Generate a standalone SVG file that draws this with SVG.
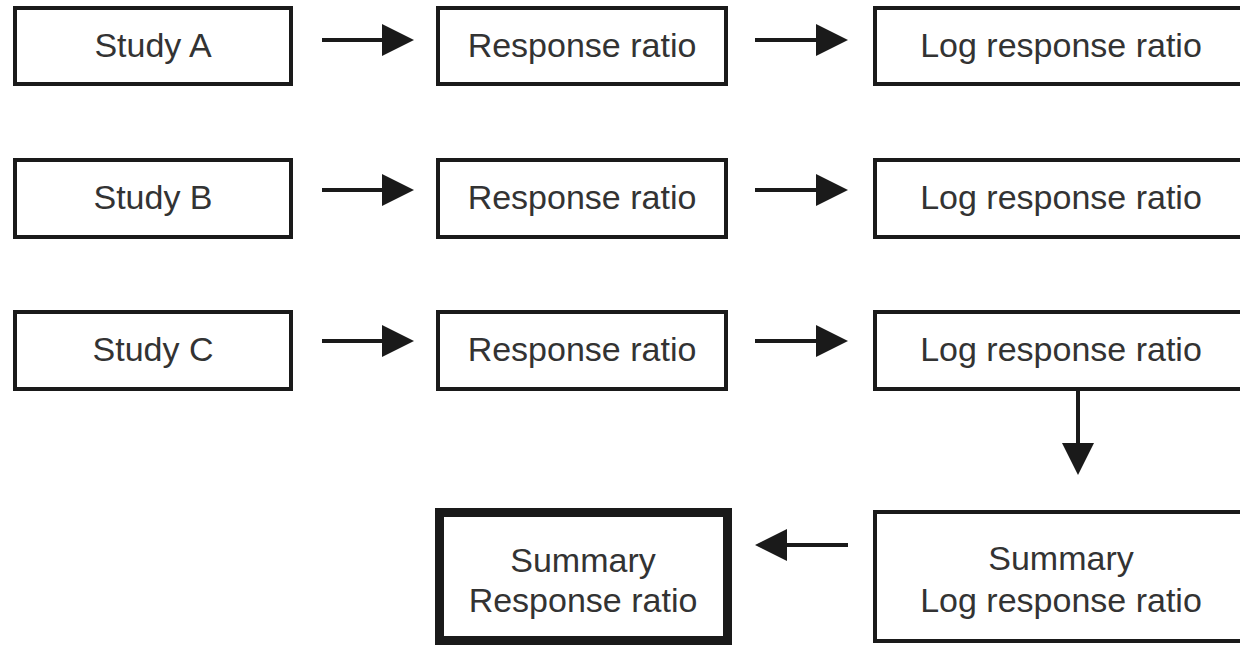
<svg xmlns="http://www.w3.org/2000/svg" width="1240" height="647" viewBox="0 0 1240 647">
  <style>
    .box { fill: #ffffff; stroke: #1a1a1a; stroke-width: 4; }
    .box-bold { fill: #ffffff; stroke: #1a1a1a; stroke-width: 9; }
    .label { font-family: "Liberation Sans", Arial, sans-serif; font-size: 34px; fill: #333333; text-anchor: middle; }
    .conn { stroke: #1a1a1a; stroke-width: 4; fill: none; marker-end: url(#head); }
  </style>
  <defs>
    <marker id="head" markerUnits="userSpaceOnUse" markerWidth="32" markerHeight="32" refX="18" refY="16" orient="auto">
      <path d="M0,0 L32,16 L0,32 Z" fill="#1a1a1a"/>
    </marker>
  </defs>
  <rect width="1240" height="647" fill="#ffffff"/>

  <!-- row A -->
  <g id="study-a">
    <rect class="box" x="15" y="8" width="276" height="76"/>
    <text class="label" x="153" y="57">Study A</text>
  </g>
  <g id="rr-a">
    <rect class="box" x="438" y="8" width="288" height="76"/>
    <text class="label" x="582" y="57">Response ratio</text>
  </g>
  <g id="lrr-a">
    <rect class="box" x="875" y="8" width="380" height="76"/>
    <text class="label" x="1061" y="57">Log response ratio</text>
  </g>

  <!-- row B -->
  <g id="study-b">
    <rect class="box" x="15" y="160" width="276" height="77"/>
    <text class="label" x="153" y="209">Study B</text>
  </g>
  <g id="rr-b">
    <rect class="box" x="438" y="160" width="288" height="77"/>
    <text class="label" x="582" y="209">Response ratio</text>
  </g>
  <g id="lrr-b">
    <rect class="box" x="875" y="160" width="380" height="77"/>
    <text class="label" x="1061" y="209">Log response ratio</text>
  </g>

  <!-- row C -->
  <g id="study-c">
    <rect class="box" x="15" y="312" width="276" height="77"/>
    <text class="label" x="153" y="361">Study C</text>
  </g>
  <g id="rr-c">
    <rect class="box" x="438" y="312" width="288" height="77"/>
    <text class="label" x="582" y="361">Response ratio</text>
  </g>
  <g id="lrr-c">
    <rect class="box" x="875" y="312" width="380" height="77"/>
    <text class="label" x="1061" y="361">Log response ratio</text>
  </g>

  <!-- summaries -->
  <g id="summary-rr">
    <rect class="box-bold" x="439.5" y="512.5" width="288" height="128"/>
    <text class="label" x="583" y="572">Summary</text>
    <text class="label" x="583" y="612">Response ratio</text>
  </g>
  <g id="summary-lrr">
    <rect class="box" x="875" y="512" width="380" height="129"/>
    <text class="label" x="1061" y="570">Summary</text>
    <text class="label" x="1061" y="612">Log response ratio</text>
  </g>

  <!-- connectors -->
  <g id="connectors">
    <line class="conn" x1="322" y1="40" x2="400" y2="40"/>
    <line class="conn" x1="755" y1="40" x2="834" y2="40"/>
    <line class="conn" x1="322" y1="190" x2="400" y2="190"/>
    <line class="conn" x1="755" y1="190" x2="834" y2="190"/>
    <line class="conn" x1="322" y1="341" x2="400" y2="341"/>
    <line class="conn" x1="755" y1="341" x2="834" y2="341"/>
    <line class="conn" x1="1078" y1="391" x2="1078" y2="461"/>
    <line class="conn" x1="848" y1="545" x2="769" y2="545"/>
  </g>
</svg>
